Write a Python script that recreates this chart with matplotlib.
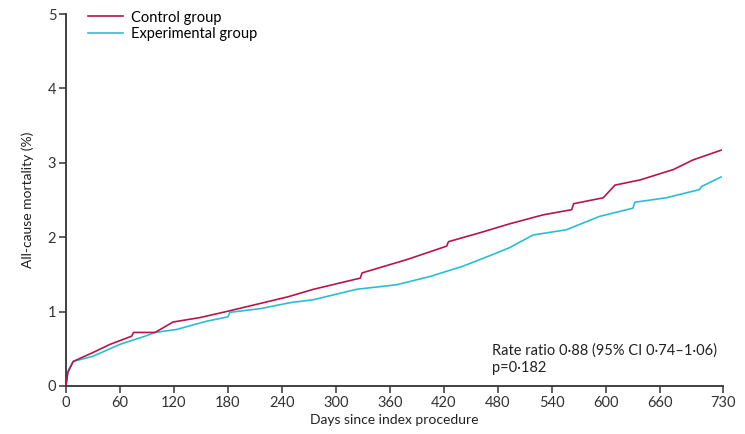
import matplotlib
matplotlib.use("Agg")
import matplotlib.pyplot as plt

# values (days, cumulative mortality %)
ctrl_days = [0, 2, 8, 30, 49, 73, 75, 99, 119, 149, 178, 216, 247, 275, 327, 329,
             379, 423, 425, 460, 493, 530, 562, 564, 597, 610, 638, 675, 697, 728]
ctrl_vals = [0.0, 0.18, 0.33, 0.45, 0.56, 0.67, 0.72, 0.72, 0.86, 0.92, 1.00, 1.11, 1.20, 1.30, 1.45, 1.52,
             1.70, 1.88, 1.94, 2.06, 2.18, 2.30, 2.37, 2.45, 2.53, 2.70, 2.77, 2.91, 3.04, 3.17]

exp_days = [0, 2, 8, 30, 60, 88, 99, 123, 156, 180, 182, 216, 249, 275, 323, 367, 404,
            441, 479, 493, 519, 556, 593, 630, 632, 667, 704, 706, 728]
exp_vals = [0.0, 0.2, 0.33, 0.40, 0.56, 0.67, 0.72, 0.76, 0.87, 0.93, 0.99, 1.04, 1.12, 1.16, 1.30, 1.36, 1.47,
            1.61, 1.79, 1.86, 2.03, 2.10, 2.28, 2.39, 2.47, 2.53, 2.64, 2.68, 2.81]

x_ticks = [0, 60, 120, 180, 240, 300, 360, 420, 480, 540, 600, 660, 730]
y_ticks = [0, 1, 2, 3, 4, 5]

CTRL = "#b3174c"
EXP = "#2dbdd3"
AX = "#333333"

plt.rcParams.update({"font.family": ["Lato", "DejaVu Sans"], "font.size": 10})

fig = plt.figure(figsize=(7.45, 4.34), dpi=100)
ax = fig.add_axes([0.0886, 0.1106, 0.8818, 0.8571])

ax.plot(ctrl_days, ctrl_vals, color=CTRL, lw=1.2, label="Control group", zorder=3)
ax.plot(exp_days, exp_vals, color=EXP, lw=1.2, label="Experimental group", zorder=2)

ax.set_xlim(0, 730)
ax.set_ylim(0, 5)
ax.set_xticks(x_ticks)
ax.set_yticks(y_ticks)
ax.tick_params(direction="out", length=5, width=1.1, colors=AX, labelsize=10.5, pad=2)
for s in ("top", "right"):
    ax.spines[s].set_visible(False)
for s in ("left", "bottom"):
    ax.spines[s].set_color(AX)
    ax.spines[s].set_linewidth(1.3)

ax.set_xlabel("Days since index procedure", fontsize=10, color="#222222", labelpad=3)
ax.set_ylabel("All-cause mortality (%)", fontsize=10, color="#222222", labelpad=10)

ax.legend(loc="upper left", bbox_to_anchor=(0.025, 1.025), frameon=False, fontsize=10.5,
          handlelength=2.4, handletextpad=0.5, labelspacing=0.15, borderaxespad=0)

ax.text(0.649, 0.03, "Rate ratio 0\u00b788 (95% CI 0\u00b774\u20131\u00b706)\np=0\u00b7182",
        transform=ax.transAxes, fontsize=10.5, color="#222222", va="bottom", ha="left",
        linespacing=1.3)

fig.savefig("out.png", dpi=100)
